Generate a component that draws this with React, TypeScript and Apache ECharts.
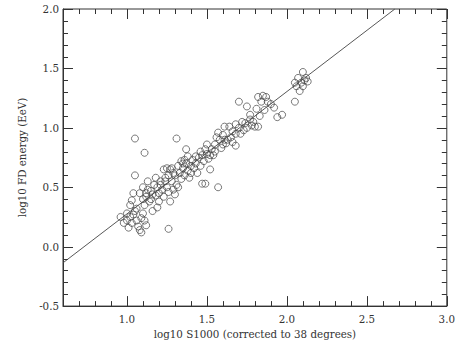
import React, { useEffect, useRef } from "react";
import * as echarts from "echarts";

const xTitle = "log10 S1000 (corrected to 38 degrees)";
const yTitle = "log10 FD energy (EeV)";

const xMajor = [1.0, 1.5, 2.0, 2.5, 3.0];
const xMinor = [0.7, 0.8, 0.9, 1.1, 1.2, 1.3, 1.4, 1.6, 1.7, 1.8, 1.9, 2.1, 2.2, 2.3, 2.4, 2.6, 2.7, 2.8, 2.9];
const yMajor = [-0.5, 0.0, 0.5, 1.0, 1.5, 2.0];
const yMinor = [-0.4, -0.3, -0.2, -0.1, 0.1, 0.2, 0.3, 0.4, 0.6, 0.7, 0.8, 0.9, 1.1, 1.2, 1.3, 1.4, 1.6, 1.7, 1.8, 1.9];

const sValues = [
  0.96, 1.02, 1.0, 1.04, 1.0, 1.03, 1.06, 1.09, 1.11, 1.12, 1.07, 1.01, 1.08, 1.09, 1.05, 1.03, 1.06, 0.98, 1.02, 1.1,
  1.08, 1.1, 1.12, 1.14, 1.15, 1.17, 1.13, 1.18, 1.2, 1.22, 1.19, 1.16, 1.24, 1.26, 1.23, 1.11, 1.13, 1.21, 1.25, 1.27, 1.3, 1.18, 1.15, 1.1, 1.2,
  1.05, 1.31, 1.11, 1.37, 1.05, 1.04, 1.26, 1.47, 1.49,
  1.28, 1.3, 1.31, 1.33, 1.34, 1.35, 1.36, 1.37, 1.38, 1.39, 1.4, 1.41, 1.42, 1.43, 1.44, 1.45, 1.46, 1.47, 1.48, 1.5, 1.52, 1.54, 1.53, 1.55, 1.51, 1.27, 1.28, 1.34, 1.36, 1.38, 1.32, 1.29,
  1.5, 1.55, 1.58, 1.61, 1.63, 1.57, 1.6, 1.62, 1.65, 1.66, 1.68, 1.61, 1.64, 1.68, 1.7, 1.72, 1.74, 1.75, 1.77, 1.78, 1.8, 1.82, 1.68, 1.52, 1.57, 1.59, 1.56, 1.7, 1.75, 1.77, 1.81, 1.83, 1.82, 1.85, 1.87, 1.88, 1.84, 1.9, 1.94, 1.97, 2.05,
  2.1, 2.07, 2.11, 2.05, 2.09, 2.13, 2.06, 2.1, 2.08, 2.12,
  1.23, 1.25,
  1.12, 1.16, 1.19, 1.21, 1.24, 1.26, 1.29, 1.32, 1.35, 1.4, 1.43, 1.46, 1.49, 1.6, 1.66, 1.71, 1.73, 1.79, 1.86, 1.92,
];
const eValues = [
  0.25, 0.35, 0.28, 0.27, 0.22, 0.2, 0.22, 0.24, 0.22, 0.18, 0.17, 0.16, 0.14, 0.12, 0.3, 0.39, 0.32, 0.2, 0.25, 0.28,
  0.45, 0.5, 0.42, 0.38, 0.47, 0.52, 0.55, 0.43, 0.38, 0.48, 0.33, 0.3, 0.55, 0.46, 0.42, 0.35, 0.48, 0.55, 0.5, 0.38, 0.44, 0.58, 0.4, 0.4, 0.45,
  0.91, 0.91, 0.79, 0.82, 0.6, 0.45, 0.15, 0.53, 0.53,
  0.55, 0.6, 0.52, 0.62, 0.57, 0.66, 0.6, 0.7, 0.64, 0.58, 0.68, 0.73, 0.66, 0.7, 0.62, 0.75, 0.68, 0.77, 0.72, 0.78, 0.77, 0.77, 0.82, 0.8, 0.74, 0.65, 0.66, 0.72, 0.73, 0.76, 0.5, 0.48,
  0.86, 0.86, 0.9, 0.9, 0.9, 0.96, 0.94, 0.87, 0.92, 0.97, 0.95, 1.01, 1.01, 1.03, 1.0, 1.05, 1.04, 1.0, 1.07, 1.02, 1.01, 1.01, 0.85, 0.65, 0.5, 0.83, 0.92, 1.22, 1.18, 1.11, 1.16, 1.1, 1.26, 1.27, 1.26, 1.22, 1.22, 1.2, 1.09, 1.11, 1.22,
  1.47, 1.42, 1.4, 1.38, 1.38, 1.39, 1.35, 1.35, 1.31, 1.42,
  0.65, 0.66,
  0.45, 0.44, 0.5, 0.52, 0.58, 0.6, 0.62, 0.68, 0.7, 0.62, 0.76, 0.8, 0.82, 0.86, 0.88, 0.95, 0.98, 1.05, 1.15, 1.17,
];
const fitX = [0.6, 2.675];
const fitY = [-0.136, 2.0];

const X_MIN = 0.6;
const X_MAX = 3.0;
const Y_MIN = -0.5;
const Y_MAX = 2.0;

const FONT = "DejaVu Serif";
const FS = 10.3;
const INK = "#333";
const MAJOR_LEN = 10;
const MINOR_LEN = 5;

export default function App() {
  const ref = useRef<HTMLDivElement>(null);
  useEffect(() => {
    if (!ref.current) return;
    const chart = echarts.init(ref.current, undefined, { renderer: "svg" });
    const points = sValues.map((s, i) => [s, eValues[i]]);
    const fit = fitX.map((x, i) => [x, fitY[i]]);
    const xTickData = [
      ...xMajor.map((v) => [v, Y_MIN, 1]),
      ...xMinor.map((v) => [v, Y_MIN, 0]),
    ];
    const yTickData = [
      ...yMajor.map((v) => [X_MIN, v, 1]),
      ...yMinor.map((v) => [X_MIN, v, 0]),
    ];
    const tickStyle = { stroke: INK, lineWidth: 1 };
    const renderXTick = (params: any, api: any) => {
      const cs = params.coordSys;
      const px = Math.round(api.coord([api.value(0), api.value(1)])[0]) + 0.5;
      const len = api.value(2) ? MAJOR_LEN : MINOR_LEN;
      const top = cs.y;
      const bottom = cs.y + cs.height;
      return {
        type: "group",
        children: [
          { type: "line", shape: { x1: px, y1: bottom, x2: px, y2: bottom - len }, style: tickStyle },
          { type: "line", shape: { x1: px, y1: top, x2: px, y2: top + len }, style: tickStyle },
        ],
      };
    };
    const renderYTick = (params: any, api: any) => {
      const cs = params.coordSys;
      const py = Math.round(api.coord([api.value(0), api.value(1)])[1]) + 0.5;
      const len = api.value(2) ? MAJOR_LEN : MINOR_LEN;
      const left = cs.x;
      const right = cs.x + cs.width;
      return {
        type: "group",
        children: [
          { type: "line", shape: { x1: left, y1: py, x2: left + len, y2: py }, style: tickStyle },
          { type: "line", shape: { x1: right, y1: py, x2: right - len, y2: py }, style: tickStyle },
        ],
      };
    };
    chart.setOption({
      animation: false,
      backgroundColor: "#fff",
      grid: { left: 63, top: 9, right: 11, bottom: 33, show: true, borderColor: INK, borderWidth: 1, backgroundColor: "transparent" },
      xAxis: {
        type: "value",
        min: X_MIN,
        max: X_MAX,
        position: "bottom",
        axisLine: { show: true, onZero: false, lineStyle: { color: INK, width: 1 } },
        axisTick: { show: false },
        splitLine: { show: false },
        axisLabel: {
          show: true,
          customValues: xMajor,
          color: INK,
          fontFamily: FONT,
          fontSize: FS,
          margin: 8,
          formatter: (v: number) => v.toFixed(1),
        },
        name: xTitle,
        nameLocation: "middle",
        nameGap: 22,
        nameTextStyle: { color: INK, fontFamily: FONT, fontSize: FS },
      },
      yAxis: {
        type: "value",
        min: Y_MIN,
        max: Y_MAX,
        position: "left",
        axisLine: { show: true, onZero: false, lineStyle: { color: INK, width: 1 } },
        axisTick: { show: false },
        splitLine: { show: false },
        axisLabel: {
          show: true,
          customValues: yMajor,
          color: INK,
          fontFamily: FONT,
          fontSize: FS,
          margin: 4,
          formatter: (v: number) => v.toFixed(1),
        },
        name: yTitle,
        nameLocation: "middle",
        nameGap: 36,
        nameRotate: 90,
        nameTextStyle: { color: INK, fontFamily: FONT, fontSize: FS },
      },
      series: [
        {
          type: "custom",
          data: xTickData,
          renderItem: renderXTick,
          silent: true,
          clip: false,
          z: 1,
        },
        {
          type: "custom",
          data: yTickData,
          renderItem: renderYTick,
          silent: true,
          clip: false,
          z: 1,
        },
        {
          type: "line",
          data: fit,
          showSymbol: false,
          lineStyle: { color: "#444", width: 0.9 },
          silent: true,
          z: 2,
        },
        {
          type: "scatter",
          data: points,
          symbol: "circle",
          symbolSize: 7,
          itemStyle: { color: "rgba(255,255,255,0)", borderColor: "#444", borderWidth: 0.9 },
          z: 3,
        },
      ],
    });
    return () => chart.dispose();
  }, []);
  return <div ref={ref} style={{ position: "fixed", left: 0, top: 0, width: 458, height: 344 }} />;
}
